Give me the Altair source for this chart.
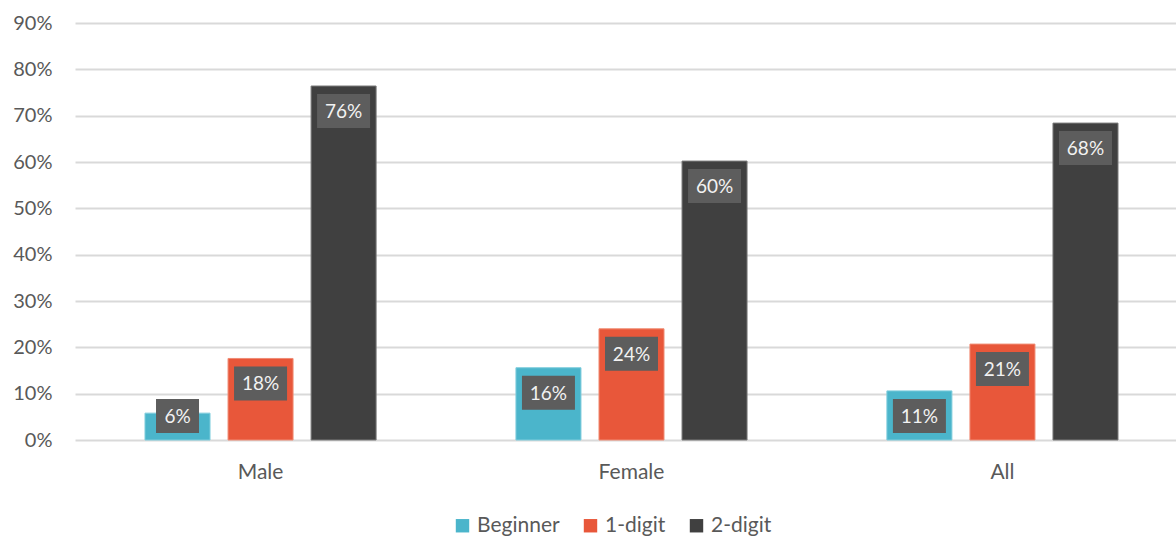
import altair as alt
import pandas as pd

groups = ["Male", "Female", "All"]
series = ["Beginner", "1-digit", "2-digit"]
beginner = [5.8, 15.6, 10.6]
one_digit = [17.6, 24.0, 20.7]
two_digit = [76.4, 60.2, 68.4]
colors = ["#4bb5cb", "#e8573a", "#404040"]
strokes = ["#7fcddd", "#f08c74", "#7a7a7a"]
y_ticks = [0, 10, 20, 30, 40, 50, 60, 70, 80, 90]

rows = []
for s, vals in zip(series, [beginner, one_digit, two_digit]):
    for g, v in zip(groups, vals):
        rows.append({"group": g, "series": s, "value": v})
df = pd.DataFrame(rows)

FONT = "Lato"
GREY = "#595959"

x_scale = alt.Scale(range=[0, 1113], paddingInner=0.377, paddingOuter=0.1887)
x_enc = alt.X("group:N", sort=groups, title=None, scale=x_scale,
              axis=alt.Axis(labelAngle=0, domain=False, ticks=False, grid=False, labelPadding=21,
                            labelFontSize=21, labelColor=GREY, labelFont=FONT))
xo_enc = alt.XOffset("series:N", sort=series,
                     scale=alt.Scale(paddingInner=0.217, paddingOuter=0))
y_scale = alt.Scale(domain=[0, 90], nice=False)
y_axis = alt.Axis(values=y_ticks, labelExpr="datum.value + '%'", domain=False, ticks=False,
                  labelPadding=23, labelFontSize=20, labelColor=GREY, labelFont=FONT,
                  gridColor="#d9d9d9", gridWidth=2)

base = alt.Chart(df)

bars = base.mark_bar(strokeWidth=1).encode(
    x=x_enc,
    xOffset=xo_enc,
    y=alt.Y("value:Q", title=None, scale=y_scale, axis=y_axis),
    color=alt.Color("series:N", sort=series, title=None,
                    scale=alt.Scale(domain=series, range=colors),
                    legend=alt.Legend(orient="none", legendX=377, legendY=492, direction="horizontal",
                                      symbolType="square", symbolSize=180, symbolStrokeWidth=0,
                                      labelFontSize=21, labelColor=GREY, labelFont=FONT,
                                      columnPadding=20, labelOffset=4)),
    stroke=alt.Stroke("series:N", sort=series, scale=alt.Scale(domain=series, range=strokes), legend=None),
)

lab = base.transform_calculate(
    lab="max(datum.value - 5.4, 5.2)",
    lo="max(datum.value - 5.4, 5.2) - 3.67",
    hi="max(datum.value - 5.4, 5.2) + 3.67",
    txt="round(datum.value) + '%'",
)

box2 = lab.transform_filter("round(datum.value) >= 10").mark_bar(width=53, color="#5d5d5d").encode(
    x=x_enc, xOffset=xo_enc, y=alt.Y("lo:Q", title=None, scale=y_scale, axis=y_axis), y2="hi:Q")
box1 = lab.transform_filter("round(datum.value) < 10").mark_bar(width=43, color="#5d5d5d").encode(
    x=x_enc, xOffset=xo_enc, y=alt.Y("lo:Q", title=None, scale=y_scale, axis=y_axis), y2="hi:Q")
text = lab.mark_text(color="#f2f2f2", fontSize=19, font=FONT, baseline="middle", dy=1).encode(
    x=x_enc, xOffset=xo_enc, y=alt.Y("lab:Q", title=None, scale=y_scale, axis=y_axis), text="txt:N")

chart = alt.layer(bars, box2, box1, text).properties(
    width=1101, height=417,
    background="white",
    autosize=alt.AutoSizeParams(type="none"),
    padding={"left": 75, "top": 23, "right": 0, "bottom": 96},
).configure_view(stroke=None)

chart.save("out.html", embed_options={"renderer": "svg", "actions": False})
